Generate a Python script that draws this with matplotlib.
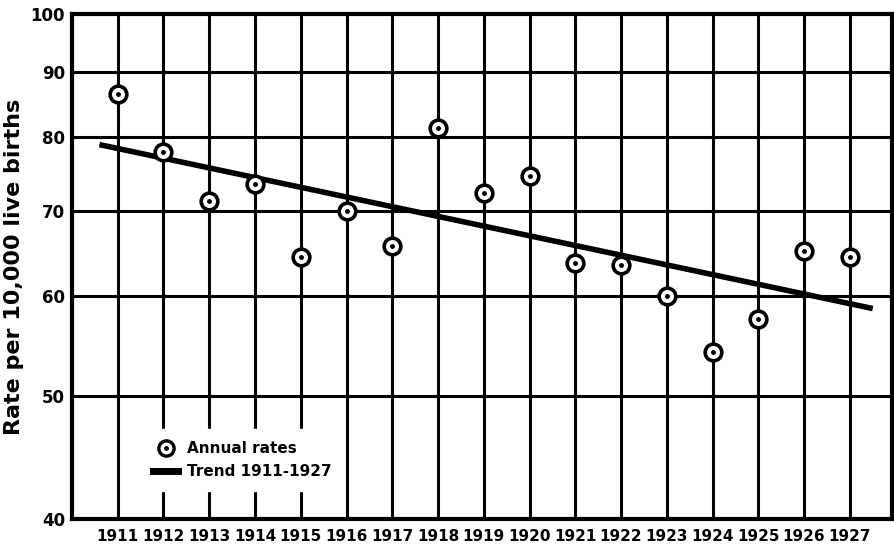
import matplotlib.pyplot as plt
from matplotlib.legend_handler import HandlerTuple
from matplotlib.lines import Line2D

# annual rates per 10,000 live births (log scale)
years = [1911, 1912, 1913, 1914, 1915, 1916, 1917, 1918, 1919,
         1920, 1921, 1922, 1923, 1924, 1925, 1926, 1927]
rates = [86.5, 77.8, 71.2, 73.4, 64.4, 70.0, 65.6, 81.3, 72.3,
         74.6, 63.7, 63.4, 60.0, 54.2, 57.5, 65.1, 64.4]

# trend line end points
trend_years = [1910.6, 1927.5]
trend_rates = [78.9, 58.6]

y_ticks = [40, 50, 60, 70, 80, 90, 100]

fig = plt.figure(figsize=(8.95, 5.54), dpi=100)
ax = fig.add_axes([0.0804, 0.0632, 0.9162, 0.9115])

ax.set_yscale('log')
ax.set_ylim(40, 100)
ax.set_xlim(1910.0, 1927.92)

# grid lines
for yv in y_ticks[1:-1]:
    ax.axhline(yv, color='black', lw=2.2, zorder=1)
for xv in years:
    ax.axvline(xv, color='black', lw=2.2, zorder=1)

# trend
ax.plot(trend_years, trend_rates, color='black', lw=4, zorder=3,
        solid_capstyle='butt')

# annual points: open circle with a dot in the middle
ax.plot(years, rates, 'o', ms=12, mfc='white', mec='black', mew=2.6,
        zorder=4, ls='none')
ax.plot(years, rates, 'o', ms=2.5, color='black', zorder=5, ls='none')

ax.set_yticks(y_ticks)
ax.set_yticklabels([str(v) for v in y_ticks], fontsize=12, fontweight='bold')
ax.yaxis.set_minor_locator(plt.NullLocator())
ax.set_xticks(years)
ax.set_xticklabels([str(v) for v in years], fontsize=11, fontweight='bold')
ax.tick_params(axis='y', length=0, pad=5)
ax.tick_params(axis='x', length=0, pad=7)

for s in ax.spines.values():
    s.set_linewidth(3)

ax.set_ylabel('Rate per 10,000 live births', fontsize=16, fontweight='bold',
              labelpad=5)

# legend
circle = Line2D([], [], marker='o', ms=11, mfc='white', mec='black', mew=2.4, ls='none')
dot = Line2D([], [], marker='o', ms=2.5, color='black', ls='none')
trend_h = Line2D([], [], color='black', lw=5)
leg = ax.legend([(circle, dot), trend_h], ['Annual rates', 'Trend 1911-1927'],
                handler_map={tuple: HandlerTuple(ndivide=1, pad=0)},
                loc='lower left', bbox_to_anchor=(0.075, 0.04),
                frameon=True, fancybox=False, framealpha=1,
                facecolor='white', edgecolor='white',
                prop={'weight': 'bold', 'size': 11},
                handlelength=1.6, handletextpad=0.6, labelspacing=0.5,
                borderpad=0.8)
leg.set_zorder(6)

fig.savefig('out.png', dpi=100)
